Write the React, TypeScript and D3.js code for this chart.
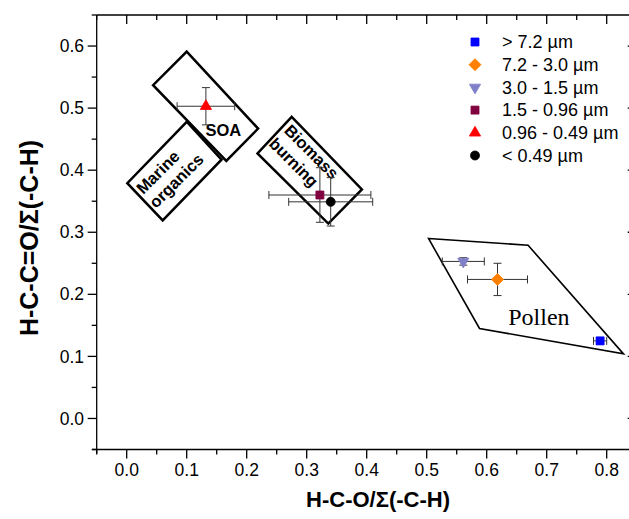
import * as React from "react";
import * as d3 from "d3";

// size bins and their mean ratios
const sizeBins = ["> 7.2 µm", "7.2 - 3.0 µm", "3.0 - 1.5 µm", "1.5 - 0.96 µm", "0.96 - 0.49 µm", "< 0.49 µm"];
const hcoRatio = [0.789, 0.618, 0.561, 0.322, 0.132, 0.34];
const hccoRatio = [0.125, 0.224, 0.253, 0.36, 0.503, 0.349];
const hcoError = [0.011, 0.05, 0.035, 0.085, 0.048, 0.07];
const hccoError = [0.005, 0.026, 0.006, 0.044, 0.03, 0.039];

const markerShapes = ["square", "diamond", "triangleDown", "square", "triangle", "circle"];
const markerColors = ["#0000ff", "#ff8000", "#8080c8", "#800040", "#ff0000", "#000000"];

// source regions, corners in data units
const soaBox = [[0.1, 0.591], [0.219, 0.467], [0.166, 0.415], [0.044, 0.537]];
const marineBox = [[0.1, 0.478], [0.158, 0.417], [0.06, 0.319], [0.001, 0.379]];
const biomassBox = [[0.275, 0.486], [0.392, 0.369], [0.336, 0.314], [0.218, 0.427]];
const pollenBox = [[0.503, 0.29], [0.669, 0.279], [0.828, 0.104], [0.588, 0.145]];

const xTicks = [0, 0.1, 0.2, 0.3, 0.4, 0.5, 0.6, 0.7, 0.8];
const yTicks = [0, 0.1, 0.2, 0.3, 0.4, 0.5, 0.6];

const width = 629;
const height = 519;
const font = "Arial, 'Liberation Sans', sans-serif";

const x = d3.scaleLinear().domain([-0.05, 0.85]).range([96.7, 636.7]);
const y = d3.scaleLinear().domain([-0.05, 0.65]).range([449.5, 15]);

const minorX = d3.range(-0.05, 0.851, 0.05).map(v => +v.toFixed(2));
const minorY = d3.range(-0.05, 0.651, 0.05).map(v => +v.toFixed(2));

const Marker = ({ shape, color, cx, cy }) => {
  let type = d3.symbolSquare;
  let size = 64;
  let rotate = 0;
  if (shape === "diamond") { size = 72; rotate = 45; }
  if (shape === "triangle") { type = d3.symbolTriangle; size = 55; }
  if (shape === "triangleDown") { type = d3.symbolTriangle; size = 55; rotate = 180; }
  if (shape === "circle") { type = d3.symbolCircle; size = 64; }
  const d = d3.symbol().type(type).size(size)();
  return (
    <path d={d} fill={color} stroke={color} strokeWidth={0.8}
      transform={`translate(${cx},${cy}) rotate(${rotate})`} />
  );
};

const Region = ({ corners, sw }) => {
  const line = d3.line().x(p => x(p[0])).y(p => y(p[1])).curve(d3.curveLinearClosed);
  return <path d={line(corners)} fill="none" stroke="#000" strokeWidth={sw} strokeLinejoin="miter" />;
};

const Axes = () => {
  const x0 = x.range()[0], x1 = x.range()[1];
  const y0 = y.range()[0], y1 = y.range()[1];
  const isMajor = v => Math.abs(v * 10 - Math.round(v * 10)) < 1e-6;
  return (
    <g stroke="#000" strokeWidth={1.3}>
      <line x1={92} x2={x1} y1={y0} y2={y0} />
      <line x1={x0} x2={x1} y1={y1} y2={y1} />
      <line x1={x0} x2={x0} y1={y1} y2={y0 + 4} />
      <line x1={x1} x2={x1} y1={y1} y2={y0} />
      {minorX.map(v => {
        const len = isMajor(v) ? 9 : 5;
        return (
          <g key={"x" + v}>
            <line x1={x(v)} x2={x(v)} y1={y0} y2={y0 + len} />
            <line x1={x(v)} x2={x(v)} y1={y1} y2={y1 + len} />
          </g>
        );
      })}
      {minorY.map(v => {
        const len = isMajor(v) ? 9 : 5;
        return (
          <g key={"y" + v}>
            <line x1={x0} x2={x0 - len} y1={y(v)} y2={y(v)} />
            <line x1={x1} x2={x1 - len} y1={y(v)} y2={y(v)} />
          </g>
        );
      })}
    </g>
  );
};

const App = () => {
  const fmt = d3.format(".1f");
  return (
    <svg width={width} height={height} style={{ position: "absolute", left: 0, top: 0, background: "#fff" }}
      fontFamily={font}>
      <Axes />
      {xTicks.map(v => (
        <text key={v} x={x(v)} y={476} fontSize={17.5} textAnchor="middle">{fmt(v)}</text>
      ))}
      {yTicks.map(v => (
        <text key={v} x={84} y={y(v)} dy="0.35em" fontSize={17.5} textAnchor="end">{fmt(v)}</text>
      ))}
      <text x={378} y={507} fontSize={22} fontWeight="bold" textAnchor="middle">
        H-C-O/Σ(-C-H)
      </text>
      <text transform={`translate(38,238) rotate(-90)`} fontSize={25}
        fontWeight="bold" textAnchor="middle">
        H-C-C=O/Σ(-C-H)
      </text>

      <Region corners={soaBox} sw={2.5} />
      <Region corners={marineBox} sw={2.5} />
      <Region corners={biomassBox} sw={2.5} />
      <Region corners={pollenBox} sw={1.6} />

      <text x={x(0.161)} y={y(0.455)} fontSize={16.5} fontWeight="bold" textAnchor="middle">SOA</text>
      <g transform={`translate(${x(0.067)},${y(0.389)}) rotate(-45)`} fontSize={16.5} fontWeight="bold" textAnchor="middle">
        <text x={-3} y={-4}>Marine</text>
        <text x={4} y={15}>organics</text>
      </g>
      <g transform={`translate(${x(0.293)},${y(0.422)}) rotate(45)`} fontSize={16.5} fontWeight="bold" textAnchor="middle">
        <text x={3} y={-4}>Biomass</text>
        <text x={-2} y={16}>burning</text>
      </g>
      <text x={x(0.687)} y={y(0.15)} fontSize={24} fontFamily="'Liberation Serif', 'Times New Roman', serif"
        textAnchor="middle">Pollen</text>

      {sizeBins.map((bin, i) => {
        const cx = x(hcoRatio[i]);
        const cy = y(hccoRatio[i]);
        const xl = x(hcoRatio[i] - hcoError[i]);
        const xr = x(hcoRatio[i] + hcoError[i]);
        const yt = y(hccoRatio[i] + hccoError[i]);
        const yb = y(hccoRatio[i] - hccoError[i]);
        return (
          <g key={bin}>
            <g stroke="#333" strokeWidth={1}>
              <line x1={xl} x2={xr} y1={cy} y2={cy} />
              <line x1={xl} x2={xl} y1={cy - 4} y2={cy + 4} />
              <line x1={xr} x2={xr} y1={cy - 4} y2={cy + 4} />
              <line x1={cx} x2={cx} y1={yt} y2={yb} />
              <line x1={cx - 4} x2={cx + 4} y1={yt} y2={yt} />
              <line x1={cx - 4} x2={cx + 4} y1={yb} y2={yb} />
            </g>
            <Marker shape={markerShapes[i]} color={markerColors[i]} cx={cx} cy={cy} />
          </g>
        );
      })}

      {sizeBins.map((bin, i) => (
        <g key={"leg" + bin} transform={`translate(475,${42 + i * 22.7})`}>
          <Marker shape={markerShapes[i]} color={markerColors[i]} cx={0} cy={0} />
          <text x={27} y={0} dy="0.35em" fontSize={18}>{bin}</text>
        </g>
      ))}
    </svg>
  );
};

export default App;
